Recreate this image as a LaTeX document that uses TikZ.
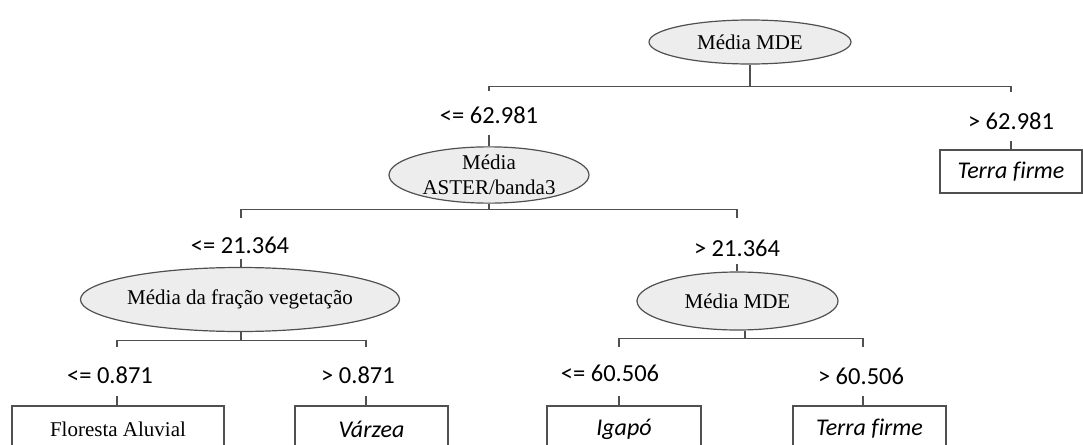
\documentclass[tikz,border=0pt]{standalone}
\usepackage{fontspec}
\setmainfont{Liberation Serif}
\newfontfamily\calib[Ligatures=NoCommon]{Carlito}
\usetikzlibrary{shapes.geometric}
\definecolor{ln}{HTML}{505050}
\definecolor{ef}{HTML}{EDEDED}
\begin{document}
\begin{tikzpicture}[x=1pt,y=-1pt,
  conn/.style={draw=ln,line width=1.2pt},
  dec/.style={ellipse,draw=ln,fill=ef,line width=1.2pt,inner sep=0pt,font=\fontsize{21}{25}\selectfont,align=center},
  leaf/.style={rectangle,draw=ln,line width=1.2pt,inner sep=0pt,minimum height=46pt},
  leafit/.style={leaf,font=\calib\itshape\fontsize{24}{28}\selectfont},
  leafrm/.style={leaf,font=\fontsize{21}{25}\selectfont},
  cond/.style={font=\calib\fontsize{24.5}{28}\selectfont,inner sep=0pt}]
\useasboundingbox (0,0) rectangle (1083,444);
\clip (0,0) rectangle (1083,444);

% level 0
\node[dec,minimum width=202pt,minimum height=44pt] (r) at (750,42) {Média MDE};
\node[cond] (ca) at (489,115) {<= 62.981};
\node[cond] (cb) at (1011,121) {> 62.981};
\node[dec,minimum width=200pt,minimum height=54pt] (aster) at (489,175) {Média\\ASTER/banda3};
\node[leafit,minimum width=142pt,minimum height=43pt] (tf1) at (1011,171.5) {Terra firme};

\draw[conn] (r.south) -- ++(0,22) coordinate (rb);
\coordinate (ra) at (489,91);
\coordinate (rc) at (1011,92);
\draw[conn] (ra) |- (rb) -| (rc);
\draw[conn] (aster.north) -- ++(0,-11);
\draw[conn] (tf1.north) -- ++(0,-8);

% level 1
\node[cond] (cc) at (240,245) {<= 21.364};
\node[cond] (cd) at (737,248) {> 21.364};
\node[dec,minimum width=297pt,minimum height=64pt] (v) at (240,299.5) {Média da fração vegetação};
\node[dec,minimum width=201pt,minimum height=58pt] (m2) at (737.5,301) {Média MDE};

\draw[conn] (aster.south) -- ++(0,6) coordinate (ab);
\coordinate (aa) at (241,218);
\coordinate (ac) at (737,218);
\draw[conn] (aa) |- (ab) -| (ac);
\draw[conn] (v.north -| aa) -- ++(0,-8);
\draw[conn] (m2.north -| ac) -- ++(0,-7);

% level 2
\draw[conn] (v.south -| aa) -- ++(0,8) coordinate (vb);
\coordinate (va) at (117,347);
\coordinate (vc) at (366,347);
\draw[conn] (va) |- (vb) -| (vc);

\draw[conn] ([xshift=7.5pt]m2.south) -- ++(0,8) coordinate (mb);
\coordinate (ma) at (619,347);
\coordinate (mc) at (863,347);
\draw[conn] (ma) |- (mb) -| (mc);

\node[cond] (c1) at (110,375) {<= 0.871};
\node[cond] (c2) at (358,375) {> 0.871};
\node[cond] (c3) at (610,373) {<= 60.506};
\node[cond] (c4) at (861,376) {> 60.506};

\node[leafrm,minimum width=212pt] (l1) at (118,429) {Floresta Aluvial};
\node[leafit,minimum width=153pt] (l2) at (371.5,429) {Várzea};
\node[leafit,minimum width=154pt] (l3) at (624,429) {Igapó};
\node[leafit,minimum width=153pt] (l4) at (869.5,429) {Terra firme};

\draw[conn] (l1.north -| va) -- ++(0,-9);
\draw[conn] (l2.north -| vc) -- ++(0,-9);
\draw[conn] (l3.north -| ma) -- ++(0,-9);
\draw[conn] (l4.north -| mc) -- ++(0,-9);
\end{tikzpicture}
\end{document}
